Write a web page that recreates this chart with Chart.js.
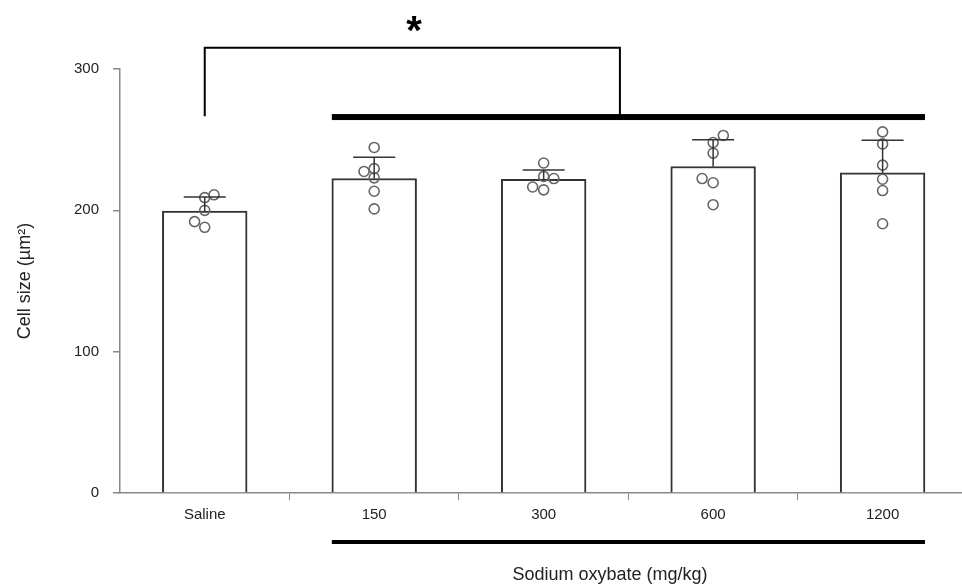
<!DOCTYPE html>
<html>
<head>
<meta charset="utf-8">
<script src="https://cdn.jsdelivr.net/npm/chart.js@4.4.1/dist/chart.umd.min.js"></script>
<style>
  html, body { margin: 0; padding: 0; background: #fff; overflow: hidden; }
  #wrap { width: 962px; height: 586px; overflow: hidden; }
</style>
</head>
<body>
<div id="wrap"><canvas id="myChart" width="968" height="586"></canvas></div>
<script>
// グループ名
const groups = ['Saline', '150', '300', '600', '1200']
// 平均値とエラーバー
const means = [199.5, 222.5, 222, 231, 226.5]
const errors = [10, 15, 6.5, 19, 23]
// 個々の値 (各グループ)
const pointsSaline = [209, 211, 200, 192, 188]
const points150 = [244.5, 227.5, 229.5, 223, 213.5, 201]
const points300 = [233.5, 224, 222.5, 216.5, 214.5]
const points600 = [253, 248, 240.5, 222.5, 219.5, 204]
const points1200 = [255.5, 247, 232, 222, 214, 190.5]
// 点の横ずれ (カテゴリ単位)
const jitter = [
  [0, 0.055, 0, -0.06, 0],
  [0, -0.06, 0, 0, 0, 0],
  [0, 0, 0.06, -0.065, 0],
  [0.06, 0, 0, -0.065, 0, 0],
  [0, 0, 0, 0, 0, 0],
]
const yTicks = [0, 100, 200, 300]

const font = '"Liberation Sans", Arial, sans-serif'
const allPoints = [pointsSaline, points150, points300, points600, points1200]

const barData = means.map((m, i) => ({ x: i, y: m }))
const scatterData = []
allPoints.forEach((vals, i) => {
  vals.forEach((v, j) => {
    scatterData.push({ x: i + jitter[i][j], y: v })
  })
})
// x 軸の目盛り: カテゴリの中心と境目
const xTicks = []
for (let i = 0; i < groups.length; i++) {
  xTicks.push(i)
  if (i < groups.length - 1) xTicks.push(i + 0.5)
}

// エラーバー・有意差の線などを描くプラグイン
const extras = {
  id: 'extras',
  afterDatasetsDraw(chart) {
    const ctx = chart.ctx
    const x = chart.scales.x
    const y = chart.scales.y
    ctx.save()
    ctx.strokeStyle = '#333'
    ctx.lineWidth = 1.5
    means.forEach((m, i) => {
      const cx = x.getPixelForValue(i)
      const yb = y.getPixelForValue(m)
      const yt = y.getPixelForValue(m + errors[i])
      ctx.beginPath()
      ctx.moveTo(cx, yb)
      ctx.lineTo(cx, yt)
      ctx.moveTo(cx - 21, yt)
      ctx.lineTo(cx + 21, yt)
      ctx.stroke()
    })
    ctx.restore()
  },
  afterDraw(chart) {
    const ctx = chart.ctx
    const x = chart.scales.x
    const y = chart.scales.y
    const bars = chart.getDatasetMeta(1).data
    const left = bars[1].x - bars[1].width / 2
    const right = bars[4].x + bars[4].width / 2
    ctx.save()
    // 上の太線
    const yThick = y.getPixelForValue(266)
    ctx.fillStyle = '#000'
    ctx.fillRect(left, yThick - 3, right - left, 6)
    // ブラケット
    const yTop = y.getPixelForValue(315)
    const xl = x.getPixelForValue(0)
    const xr = x.getPixelForValue(2.45)
    ctx.strokeStyle = '#000'
    ctx.lineWidth = 2
    ctx.beginPath()
    ctx.moveTo(xl, y.getPixelForValue(266.5))
    ctx.lineTo(xl, yTop)
    ctx.lineTo(xr, yTop)
    ctx.lineTo(xr, yThick)
    ctx.stroke()
    // *
    ctx.fillStyle = '#000'
    ctx.font = 'bold 40px ' + font
    ctx.textAlign = 'center'
    ctx.textBaseline = 'top'
    ctx.fillText('*', 414, 13)
    // 下の線
    ctx.fillRect(left, 540, right - left, 4)
    // 軸タイトル
    ctx.fillStyle = '#222'
    ctx.font = '18px ' + font
    ctx.textBaseline = 'middle'
    ctx.fillText('Sodium oxybate (mg/kg)', 610, 575)
    ctx.translate(25, (chart.chartArea.top + chart.chartArea.bottom) / 2)
    ctx.rotate(-Math.PI / 2)
    ctx.fillText('Cell size (\u00b5m\u00b2)', 0, 0)
    ctx.restore()
  },
}

const myChart = new Chart(document.getElementById('myChart'), {
  type: 'bar',
  data: {
    datasets: [
      {
        type: 'scatter',
        data: scatterData,
        order: 0,
        pointRadius: 5,
        pointBorderWidth: 1.6,
        pointBorderColor: '#666',
        pointBackgroundColor: 'rgba(0,0,0,0)',
      },
      {
        type: 'bar',
        data: barData,
        order: 1,
        grouped: false,
        backgroundColor: '#fff',
        borderColor: '#333',
        borderWidth: 2,
        barPercentage: 1.0,
        categoryPercentage: 1.0,
      },
    ],
  },
  options: {
    responsive: false,
    animation: false,
    layout: { padding: { left: 0, top: 69, right: 0, bottom: 0 } },
    plugins: { legend: { display: false }, tooltip: { enabled: false } },
    scales: {
      x: {
        type: 'linear',
        offset: false,
        min: -0.5,
        max: 4.465,
        afterFit: (s) => { s.height = 93 },
        afterBuildTicks: (s) => { s.ticks = xTicks.map((v) => ({ value: v })) },
        border: { display: true, color: '#888', width: 1.5 },
        grid: {
          offset: false,
          drawOnChartArea: false,
          tickLength: 7,
          lineWidth: 1,
          color: (c) => (c.tick && Number.isInteger(c.tick.value) ? 'rgba(0,0,0,0)' : '#888'),
        },
        ticks: {
          autoSkip: false,
          maxRotation: 0,
          color: '#222',
          font: { family: font, size: 15 },
          padding: 6,
          callback: (v) => (Number.isInteger(v) ? groups[v] : ''),
        },
      },
      y: {
        min: 0,
        max: 300,
        afterFit: (s) => { s.width = 120 },
        afterBuildTicks: (s) => { s.ticks = yTicks.map((v) => ({ value: v })) },
        border: { display: true, color: '#888', width: 1.5 },
        grid: { drawOnChartArea: false, tickLength: 7, color: '#888', lineWidth: 1.5 },
        ticks: { color: '#222', font: { family: font, size: 15 }, padding: 14 },
      },
    },
  },
  plugins: [extras],
})
</script>
</body>
</html>
